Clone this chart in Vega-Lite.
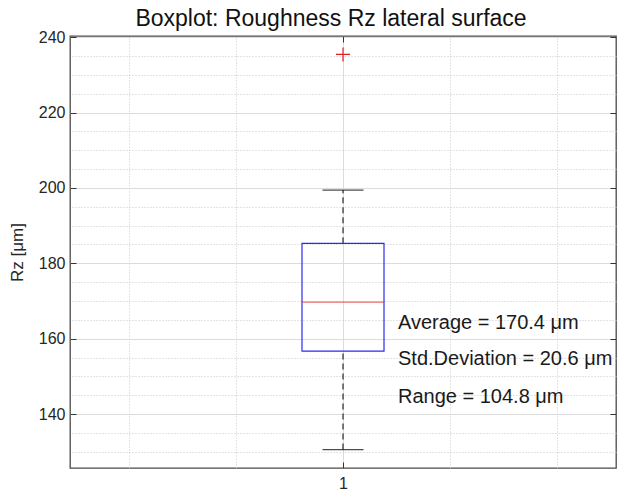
{
  "$schema": "https://vega.github.io/schema/vega-lite/v6.json",
  "width": 546,
  "height": 432,
  "autosize": {"type": "none"},
  "padding": {"left": 70, "top": 36, "right": 1, "bottom": 24},
  "background": "white",
  "config": {
    "font": "Liberation Sans",
    "view": {"stroke": "#4a4a4a", "strokeWidth": 1.3},
    "axis": {"domain": false, "labelFont": "Liberation Sans", "titleFont": "Liberation Sans"}
  },
  "title": {
    "text": "Boxplot: Roughness Rz lateral surface",
    "fontSize": 23,
    "fontWeight": "normal",
    "color": "#111111",
    "anchor": "middle",
    "baseline": "alphabetic",
    "offset": 6.5,
    "dx": -12,
    "dy": 26
  },
  "datasets": {
    "stats": [
      {"group": 1, "q1": 156.7, "q3": 185.3, "median": 169.7, "lower": 130.6, "upper": 199.4, "outlier": 235.4}
    ],
    "notes": [
      {"label": "Average = 170.4 \u03bcm", "value": 164.2},
      {"label": "Std.Deviation = 20.6 \u03bcm", "value": 154.5},
      {"label": "Range = 104.8 \u03bcm", "value": 144.6}
    ]
  },
  "resolve": {"axis": {"x": "independent", "y": "independent"}},
  "layer": [
    {
      "data": {"name": "stats"},
      "mark": {"type": "point", "opacity": 0},
      "encoding": {
        "x": {"field": "group", "type": "quantitative", "scale": {"domain": [0.5, 1.5], "nice": false, "zero": false},
          "axis": {"orient": "top", "values": [0.6, 0.8, 1.2, 1.4], "grid": true, "gridDash": [1, 2], "gridColor": "#c8c8c8", "gridWidth": 1, "ticks": false, "labels": false, "title": null}},
        "y": {"field": "median", "type": "quantitative", "scale": {"domain": [125.7, 240.3], "nice": false, "zero": false},
          "axis": {"orient": "right", "values": [130, 135, 145, 150, 155, 165, 170, 175, 185, 190, 195, 205, 210, 215, 225, 230, 235], "grid": true, "gridDash": [1, 2], "gridColor": "#c8c8c8", "gridWidth": 1, "ticks": false, "labels": false, "title": null}}
      }
    },
    {
      "data": {"name": "stats"},
      "mark": {"type": "point", "opacity": 0},
      "encoding": {
        "x": {"field": "group", "type": "quantitative",
          "axis": {"orient": "bottom", "values": [1], "grid": true, "gridColor": "#dcdcdc", "gridWidth": 1, "tickSize": -6, "tickColor": "#333333", "labelFontSize": 16, "labelColor": "#262626", "labelPadding": 13, "title": null}},
        "y": {"field": "median", "type": "quantitative",
          "axis": {"orient": "left", "values": [140, 160, 180, 200, 220, 240], "grid": true, "gridColor": "#dcdcdc", "gridWidth": 1, "tickSize": -6, "tickColor": "#333333", "labelFontSize": 16, "labelColor": "#262626", "labelPadding": 11, "title": "Rz [\u03bcm]", "titleFontSize": 17, "titleFontWeight": "normal", "titleColor": "#262626", "titlePadding": 12}}
      }
    },
    {
      "data": {"name": "stats"},
      "mark": {"type": "point", "opacity": 0},
      "encoding": {
        "x": {"field": "group", "type": "quantitative",
          "axis": {"orient": "top", "values": [1], "grid": false, "tickSize": -6, "tickColor": "#333333", "labels": false, "title": null}},
        "y": {"field": "median", "type": "quantitative",
          "axis": {"orient": "right", "values": [140, 160, 180, 200, 220, 240], "grid": false, "tickSize": -6, "tickColor": "#333333", "labels": false, "title": null}}
      }
    },
    {
      "data": {"name": "stats"},
      "mark": {"type": "rule", "color": "#000000", "strokeDash": [6, 4], "strokeWidth": 1},
      "encoding": {
        "x": {"field": "group", "type": "quantitative", "axis": null},
        "y": {"field": "q3", "type": "quantitative", "axis": null},
        "y2": {"field": "upper"}
      }
    },
    {
      "data": {"name": "stats"},
      "mark": {"type": "rule", "color": "#000000", "strokeDash": [6, 4], "strokeWidth": 1},
      "encoding": {
        "x": {"field": "group", "type": "quantitative", "axis": null},
        "y": {"field": "lower", "type": "quantitative", "axis": null},
        "y2": {"field": "q1"}
      }
    },
    {
      "data": {"name": "stats"},
      "mark": {"type": "bar", "width": 82, "fill": "white", "fillOpacity": 0, "stroke": "#2b2bf0", "strokeWidth": 1.2},
      "encoding": {
        "x": {"field": "group", "type": "quantitative", "axis": null},
        "y": {"field": "q1", "type": "quantitative", "axis": null},
        "y2": {"field": "q3"}
      }
    },
    {
      "data": {"name": "stats"},
      "mark": {"type": "tick", "orient": "horizontal", "size": 82, "thickness": 1.2, "color": "#e03030"},
      "encoding": {
        "x": {"field": "group", "type": "quantitative", "axis": null},
        "y": {"field": "median", "type": "quantitative", "axis": null}
      }
    },
    {
      "data": {"name": "stats"},
      "mark": {"type": "tick", "orient": "horizontal", "size": 41, "thickness": 1.2, "color": "#000000"},
      "encoding": {
        "x": {"field": "group", "type": "quantitative", "axis": null},
        "y": {"field": "upper", "type": "quantitative", "axis": null}
      }
    },
    {
      "data": {"name": "stats"},
      "mark": {"type": "tick", "orient": "horizontal", "size": 41, "thickness": 1.2, "color": "#000000"},
      "encoding": {
        "x": {"field": "group", "type": "quantitative", "axis": null},
        "y": {"field": "lower", "type": "quantitative", "axis": null}
      }
    },
    {
      "data": {"name": "stats"},
      "mark": {"type": "point", "shape": "M-1,0L1,0M0,-1L0,1", "size": 196, "filled": false, "stroke": "#e02020", "strokeWidth": 1.2, "opacity": 1},
      "encoding": {
        "x": {"field": "group", "type": "quantitative", "axis": null},
        "y": {"field": "outlier", "type": "quantitative", "axis": null}
      }
    },
    {
      "data": {"name": "notes"},
      "mark": {"type": "text", "align": "left", "baseline": "middle", "fontSize": 20, "color": "#1a1a1a", "font": "Liberation Sans"},
      "encoding": {
        "x": {"datum": 1.1026, "type": "quantitative", "axis": null},
        "y": {"field": "value", "type": "quantitative", "axis": null},
        "text": {"field": "label"}
      }
    }
  ]
}
